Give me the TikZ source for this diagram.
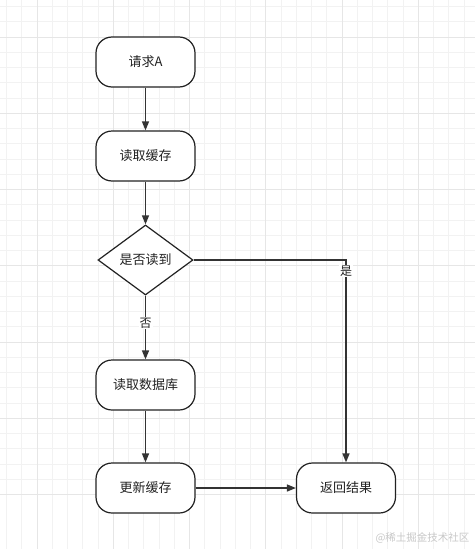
\documentclass[tikz,border=0pt]{standalone}
\usepackage{fontspec}
\newfontfamily\cjk{Noto Sans CJK SC}
\usetikzlibrary{shapes.geometric,arrows.meta}
\definecolor{gridminor}{HTML}{F2F2F2}
\definecolor{gridmajor}{HTML}{E6E6E6}
\definecolor{ink}{HTML}{222222}
\definecolor{arrowink}{HTML}{333333}
\definecolor{wm}{HTML}{C8C8C8}
\tikzset{
  procbox/.style={draw=ink, line width=1.2pt, rounded corners=16pt, minimum width=99pt, minimum height=50pt, inner sep=0pt, fill=white, text=ink, font=\cjk\fontsize{13}{15}\selectfont},
  decbox/.style={draw=ink, line width=1.2pt, diamond, minimum width=95pt, minimum height=70pt, inner sep=0pt, fill=white, text=ink, font=\cjk\fontsize{13}{15}\selectfont},
  flow/.style={draw=arrowink, line width=1.4pt, -{Triangle[length=9pt,width=7pt]}},
  elabel/.style={fill=white, inner sep=1pt, text=ink, font=\cjk\fontsize{12}{14}\selectfont}
}
\begin{document}
\begin{tikzpicture}[x=1pt,y=-1pt]
\useasboundingbox (0,0) rectangle (475,549);
\fill[white] (0,0) rectangle (475,549);
% grid
\foreach \k in {-2,...,30} {
  \pgfmathsetmacro{\p}{37+\k*15.25}
  \draw[gridminor, line width=1pt] (\p,0) -- (\p,549);
  \draw[gridminor, line width=1pt] (0,\p) -- (475,\p);
}
\foreach \k in {0,...,6} {
  \pgfmathsetmacro{\p}{37+\k*76.25}
  \draw[gridmajor, line width=1pt] (\p,0) -- (\p,549);
  \draw[gridmajor, line width=1pt] (0,\p) -- (475,\p);
}
% nodes
\node[procbox] (a) at (145.5,62) {请求A};
\node[procbox] (b) at (145.5,156) {读取缓存};
\node[decbox]  (c) at (145.5,260) {是否读到};
\node[procbox] (d) at (145.5,385) {读取数据库};
\node[procbox] (e) at (145.5,488) {更新缓存};
\node[procbox] (f) at (346,488) {返回结果};
% edges
\draw[flow] (a) -- (b);
\draw[flow] (b) -- (c);
\draw[flow] (c) -- node[elabel, pos=0.43] {否} (d);
\draw[flow] (d) -- (e);
\draw[flow] (e) -- (f);
\draw[flow] (c.east) -| node[elabel, pos=0.527] {是} (f.north);
% watermark
\node[text=wm, font=\cjk\fontsize{10.5}{12}\selectfont, anchor=east] (w) at (473,538) {@稀土掘金技术社区};
\end{tikzpicture}
\end{document}
